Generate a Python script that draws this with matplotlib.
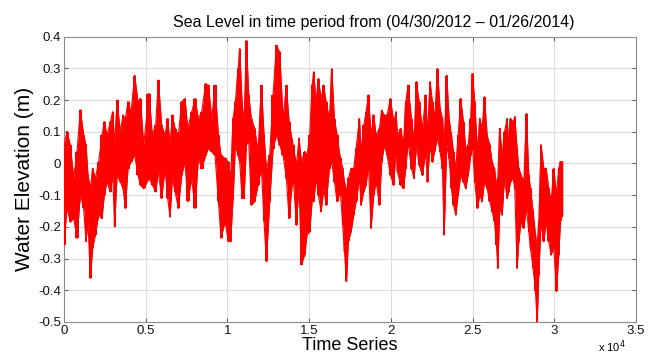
import numpy as np
import matplotlib
matplotlib.use("Agg")
import matplotlib.pyplot as plt
from matplotlib.ticker import FixedLocator, FuncFormatter

# Sample index of each reading and the high / low water level (m) around it
sample_idx = [
    0, 184, 388, 592, 796, 1000, 1204, 1347, 1469, 1612, 1755, 1918, 2122, 2326,
    2469, 2632, 2836, 2979, 3101, 3244, 3448, 3611, 3754, 3917, 4101, 4325, 4529,
    4672, 4876,
    5203, 5407, 5611, 5774, 5978, 6182, 6345, 6488, 6631, 6794, 6998, 7202, 7406,
    7569, 7814, 8018, 8222, 8426, 8671, 8834, 9038, 9242, 9446, 9609, 9854, 10058,
    10201, 10344, 10487, 10650, 10752, 10895, 11017, 11160, 11303, 11466, 11670,
    11874, 12078, 12241, 12384, 12588, 12792, 12996, 13200, 13404, 13608, 13771,
    14016, 14220, 14383, 14526, 14730, 14873, 15036, 15179,
    15281, 15424, 15567, 15730, 15893, 16036, 16240, 16383, 16546, 16709, 16913,
    17056, 17158, 17280, 17403, 17566, 17729, 17872, 18076, 18178, 18341, 18484,
    18627, 18790, 18953, 19096, 19300, 19443, 19606, 19769, 19973, 20177, 20320,
    20402, 20606, 20769, 20912, 21055, 21259, 21422, 21565, 21728, 21932, 22136,
    22238, 22401, 22544, 22687, 22850, 23013, 23156, 23258, 23421, 23564, 23707,
    23829, 23972, 24115, 24278, 24441, 24584, 24727, 24890, 24992, 25135, 25298,
    25441, 25584, 25727, 25890, 26053, 26196, 26339, 26461, 26543, 26665, 26808,
    26951, 27114, 27216, 27318, 27481, 27583, 27726, 27828, 27971, 28134, 28297,
    28440, 28542, 28705, 28848, 28950, 29052, 29195, 29358, 29501, 29664, 29807,
    29970, 30133, 30276, 30378, 30500,
]

level_high = [
    0.058, 0.100, 0.058, -0.047, 0.037, 0.168, 0.089, 0.058, -0.037, -0.079,
    -0.016, -0.047, 0.005, 0.089, 0.131, 0.089, 0.131, 0.162, 0.058, 0.199,
    0.099, 0.152, 0.141, 0.194, 0.162, 0.277, 0.194, 0.204, 0.058,
    0.220, 0.089, 0.120, 0.262, 0.120, 0.089, 0.141, 0.058, 0.152, 0.110, 0.089,
    0.194, 0.204, 0.110, 0.162, 0.204, 0.141, 0.162, 0.251, 0.246, 0.141, 0.246,
    0.089, 0.026, 0.016, 0.005,
    -0.047, 0.141, 0.194, 0.298, 0.361, 0.194, 0.120, 0.387, 0.215, 0.141, 0.110,
    0.037, 0.246, 0.089, -0.016, 0.026, 0.215, 0.372, 0.351, 0.141, 0.246, 0.131,
    0.058, -0.005, 0.079, 0.005, 0.037, 0.026, 0.089, 0.246,
    0.288, 0.194, 0.267, 0.204, 0.246, 0.194, 0.141, 0.298, 0.141, 0.089, 0.016,
    -0.016, -0.058, -0.089, -0.047, -0.016, -0.016, 0.047, 0.141, 0.037, 0.120,
    0.162, 0.215, 0.089, 0.152, 0.089, 0.110, 0.167, 0.152, 0.152, 0.204, 0.131,
    0.162,
    0.089, 0.110, 0.058, 0.194, 0.246, 0.141, 0.068, 0.257, 0.194, 0.110, 0.215,
    0.089, 0.257, 0.194, 0.141, 0.298, 0.173, 0.141, 0.058, 0.277, 0.141, 0.089,
    0.037, -0.016, 0.089, 0.204, 0.131, 0.047, 0.058, 0.141, 0.283, 0.194, 0.037,
    0.141, 0.110, 0.209, 0.089, 0.058, 0.005, -0.016, -0.068, -0.047, 0.110,
    0.026, 0.099, 0.141, 0.058, 0.141, 0.131, 0.147, 0.047, -0.016, -0.037,
    -0.058, 0.157, -0.037, -0.079, -0.152, -0.225, -0.267, -0.183, 0.058,
    -0.016, -0.016, -0.079, -0.120, -0.016, -0.099, -0.016, 0.005, 0.005,
]

level_low = [
    -0.257, -0.140, -0.184, -0.173, -0.235, -0.099, -0.141, -0.246, -0.183,
    -0.361, -0.267, -0.225, -0.162, -0.173, -0.099, -0.058, -0.089, -0.037,
    -0.199, -0.037, -0.058, -0.079, -0.141, -0.016, 0.005, 0.026, -0.037,
    -0.068, -0.079,
    -0.047, -0.068, -0.089, -0.026, -0.110, -0.016, -0.110, -0.168, -0.047,
    -0.089, -0.141, -0.037, 0.005, -0.120, -0.047, -0.141, 0.016, -0.016, 0.026,
    0.047, 0.037, 0.026, -0.120, -0.235, -0.183, -0.246,
    -0.246, -0.110, 0.058, 0.026, 0.005, -0.110, -0.110, 0.060, 0.068, -0.131,
    -0.120, -0.068, -0.016, -0.183, -0.309, -0.120, 0.047, 0.089, 0.058, 0.026,
    -0.047, -0.173, -0.037, -0.194, -0.068, -0.319, -0.288, -0.225, -0.215,
    -0.120,
    -0.120, -0.047, -0.099, -0.152, -0.079, -0.131, -0.016, 0.005, -0.058,
    -0.120, -0.089, -0.194, -0.277, -0.372, -0.246, -0.215, -0.162, -0.120,
    -0.047, -0.131, -0.089, -0.068, -0.005, -0.204, -0.099, -0.058, -0.131,
    0.005, 0.058, 0.026, -0.037, -0.068, 0.058,
    -0.026, -0.068, -0.079, -0.016, 0.068, -0.016, -0.047, 0.058, -0.005,
    -0.037, 0.037, -0.058, 0.058, 0.005, 0.040, 0.080, 0.037, -0.016, -0.225,
    0.060, 0.016, -0.079, -0.131, -0.162, -0.099, -0.037, -0.058, -0.079,
    -0.037, 0.026, 0.058, -0.058, -0.141,
    -0.099, -0.120, -0.058, -0.079, -0.120, -0.152, -0.183, -0.257, -0.330,
    -0.141, -0.162, -0.047, -0.110, -0.089, -0.058, -0.047, -0.079, -0.330,
    -0.246, -0.183, -0.204, -0.141, -0.215, -0.267, -0.330, -0.403, -0.500,
    -0.351, -0.183, -0.246, -0.183, -0.246, -0.288, -0.267, -0.403, -0.288,
    -0.183, -0.162,
]

x_ticks = [0, 5000, 10000, 15000, 20000, 25000, 30000, 35000]
y_ticks = [-0.5, -0.4, -0.3, -0.2, -0.1, 0.0, 0.1, 0.2, 0.3, 0.4]

plt.rcParams["font.family"] = ["Liberation Sans", "DejaVu Sans"]

fig = plt.figure(figsize=(6.52, 3.58), dpi=100)
ax = fig.add_axes([64 / 652, 1 - 322 / 358, 572 / 652, (322 - 36.6) / 358])

x = np.asarray(sample_idx, dtype=float)
hi = np.asarray(level_high)
lo = np.asarray(level_low)
red = "#ff0000"

# Tidal range between each high and low reading, as a sloped band and as
# a stepped band centred on each reading
ax.fill_between(x, lo, hi, color=red, linewidth=0, zorder=3)
ax.fill_between(x, lo, hi, step="mid", color=red, linewidth=0, zorder=3)

# Oscillating trace: each reading's high followed by its low
trace_x = np.column_stack([x, x]).ravel()
trace_y = np.column_stack([hi, lo]).ravel()
ax.plot(trace_x, trace_y, color=red, linewidth=1.2, zorder=3)
ax.plot(x, hi, color=red, linewidth=0.8, zorder=3)
ax.plot(x, lo, color=red, linewidth=0.8, zorder=3)

ax.set_xlim(0, 35000)
ax.set_ylim(-0.5, 0.4)
ax.xaxis.set_major_locator(FixedLocator(x_ticks))
ax.yaxis.set_major_locator(FixedLocator(y_ticks))
ax.xaxis.set_major_formatter(FuncFormatter(lambda v, _: f"{v / 1e4:g}"))
ax.yaxis.set_major_formatter(FuncFormatter(lambda v, _: f"{round(v, 1):g}"))

ax.grid(True, color="#dcdcdc", linewidth=0.8, zorder=0)
ax.set_axisbelow(True)
ax.tick_params(direction="in", length=3, width=0.7, colors="#555555",
               labelcolor="#111111", labelsize=9.5, top=True, right=True, pad=2)
for sp in ax.spines.values():
    sp.set_color("#8c8c8c")
    sp.set_linewidth(0.8)

ax.set_title("Sea Level in time period from (04/30/2012 \u2013 01/26/2014)",
             fontsize=11.5, x=(374 - 64) / 572, pad=7)
ax.set_xlabel("Time Series", fontsize=13, labelpad=0)
ax.set_ylabel("Water Elevation (m)", fontsize=15, labelpad=3)
ax.text(0.958, -0.117, "x 10$^{4}$", transform=ax.transAxes, fontsize=8,
        ha="center", va="bottom")

fig.savefig("out.png", dpi=100, facecolor="white")
